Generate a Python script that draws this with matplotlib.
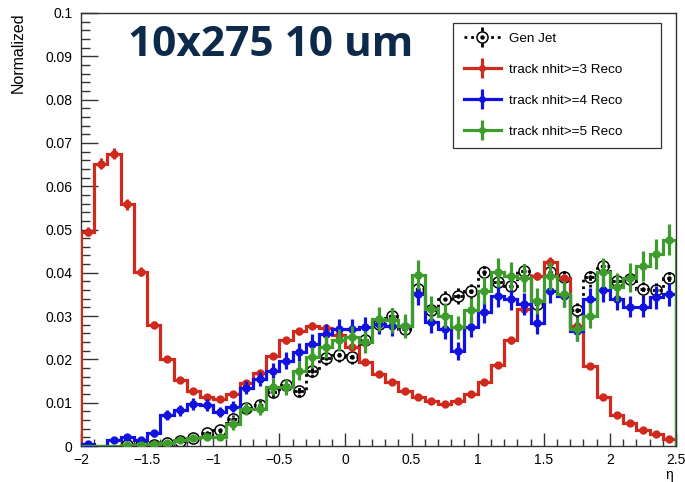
"""
Jet eta distribution, gen vs reco with different track nhit cuts
"""

import numpy as np
import matplotlib
matplotlib.use('Agg')
import matplotlib.pyplot as plt
from matplotlib.lines import Line2D
from matplotlib.path import Path
from matplotlib.ticker import MultipleLocator, FuncFormatter

plt.rcParams['font.family'] = ['Liberation Sans', 'DejaVu Sans']

# 45 bins of 0.1 in eta, from -2 to 2.5
eta_edges = np.round(np.arange(-2.0, 2.55, 0.1), 2)

gen_jet = [0, 0, 0, 0.0002, 0.0002, 0.0003, 0.0007, 0.0012, 0.0019, 0.0029,
           0.0038, 0.0063, 0.0088, 0.0095, 0.0125, 0.0140, 0.0126, 0.0174, 0.0203, 0.0211,
           0.0206, 0.0245, 0.0282, 0.0301, 0.0270, 0.0363, 0.0313, 0.0340, 0.0347, 0.0359,
           0.0401, 0.0378, 0.0370, 0.0405, 0.0328, 0.0401, 0.0390, 0.0313, 0.0390, 0.0416,
           0.0382, 0.0386, 0.0363, 0.0360, 0.0388]
gen_err = [0, 0, 0, 0.0002, 0.0002, 0.0002, 0.0003, 0.0004, 0.0005, 0.0006,
           0.0007, 0.0009, 0.0010, 0.0011, 0.0012, 0.0013, 0.0012, 0.0015, 0.0016, 0.0016,
           0.0016, 0.0017, 0.0018, 0.0019, 0.0018, 0.0021, 0.0019, 0.0020, 0.0020, 0.0021,
           0.0022, 0.0021, 0.0021, 0.0022, 0.0020, 0.0022, 0.0022, 0.0019, 0.0022, 0.0022,
           0.0021, 0.0022, 0.0021, 0.0021, 0.0022]

reco_nhit3 = [0.0495, 0.0652, 0.0675, 0.0558, 0.0403, 0.0280, 0.0200, 0.0152, 0.0127, 0.0114,
              0.0109, 0.0120, 0.0145, 0.0168, 0.0207, 0.0244, 0.0265, 0.0278, 0.0272, 0.0256,
              0.0228, 0.0194, 0.0167, 0.0148, 0.0127, 0.0113, 0.0103, 0.0098, 0.0105, 0.0119,
              0.0148, 0.0186, 0.0244, 0.0317, 0.0393, 0.0426, 0.0388, 0.0278, 0.0184, 0.0113,
              0.0071, 0.0053, 0.0038, 0.0027, 0.0017]
err_nhit3 = [0.0011, 0.0013, 0.0013, 0.0012, 0.0010, 0.0008, 0.0007, 0.0006, 0.0006, 0.0005,
             0.0005, 0.0005, 0.0006, 0.0006, 0.0007, 0.0008, 0.0008, 0.0008, 0.0008, 0.0008,
             0.0008, 0.0007, 0.0006, 0.0006, 0.0006, 0.0005, 0.0005, 0.0005, 0.0005, 0.0005,
             0.0006, 0.0007, 0.0008, 0.0009, 0.0010, 0.0010, 0.0010, 0.0008, 0.0007, 0.0005,
             0.0004, 0.0004, 0.0003, 0.0003, 0.0002]

reco_nhit4 = [0.0005, 0, 0.0013, 0.0020, 0.0013, 0.0029, 0.0071, 0.0082, 0.0098, 0.0094,
              0.0078, 0.0091, 0.0135, 0.0155, 0.0174, 0.0197, 0.0217, 0.0236, 0.0259, 0.0270,
              0.0270, 0.0274, 0.0282, 0.0278, 0.0276, 0.0351, 0.0286, 0.0270, 0.0220, 0.0274,
              0.0309, 0.0347, 0.0340, 0.0328, 0.0283, 0.0357, 0.0347, 0.0265, 0.0340, 0.0360,
              0.0340, 0.0322, 0.0322, 0.0343, 0.0350]
err_nhit4 = [0.0003, 0, 0.0005, 0.0006, 0.0005, 0.0008, 0.0012, 0.0013, 0.0014, 0.0014,
             0.0012, 0.0013, 0.0016, 0.0017, 0.0018, 0.0020, 0.0021, 0.0022, 0.0023, 0.0023,
             0.0023, 0.0023, 0.0024, 0.0023, 0.0023, 0.0026, 0.0024, 0.0023, 0.0021, 0.0023,
             0.0025, 0.0026, 0.0026, 0.0025, 0.0024, 0.0026, 0.0026, 0.0023, 0.0026, 0.0027,
             0.0026, 0.0025, 0.0025, 0.0026, 0.0026]

reco_nhit5 = [0, 0, 0, 0.0002, 0.0002, 0.0004, 0.0007, 0.0013, 0.0018, 0.0021,
              0.0021, 0.0050, 0.0086, 0.0086, 0.0137, 0.0136, 0.0174, 0.0205, 0.0228, 0.0245,
              0.0251, 0.0240, 0.0294, 0.0290, 0.0278, 0.0396, 0.0317, 0.0301, 0.0274, 0.0313,
              0.0359, 0.0401, 0.0393, 0.0388, 0.0336, 0.0393, 0.0351, 0.0270, 0.0301, 0.0401,
              0.0368, 0.0389, 0.0416, 0.0443, 0.0476]
err_nhit5 = [0, 0, 0, 0.0002, 0.0002, 0.0003, 0.0004, 0.0006, 0.0007, 0.0008,
             0.0008, 0.0012, 0.0015, 0.0015, 0.0019, 0.0019, 0.0022, 0.0024, 0.0025, 0.0026,
             0.0026, 0.0026, 0.0028, 0.0028, 0.0028, 0.0033, 0.0029, 0.0029, 0.0027, 0.0029,
             0.0031, 0.0033, 0.0033, 0.0032, 0.0030, 0.0033, 0.0031, 0.0027, 0.0029, 0.0033,
             0.0032, 0.0033, 0.0034, 0.0035, 0.0036]

reco_series = [
    ('track nhit>=3 Reco', reco_nhit3, err_nhit3, '#cf2a1d'),
    ('track nhit>=4 Reco', reco_nhit4, err_nhit4, '#1212e0'),
    ('track nhit>=5 Reco', reco_nhit5, err_nhit5, '#3d9c2c'),
]

DOT_LS = (0, (1, 1.4))

# marker made of two short vertical dashes (dotted error bar in the legend)
dot_bar = Path([(0, 0.6), (0, 1.0), (0, -0.6), (0, -1.0)],
               [Path.MOVETO, Path.LINETO, Path.MOVETO, Path.LINETO])


def fmt_tick(v, pos):
    v = round(v, 3) + 0.0
    return f'{v:g}'.replace('-', '\u2212')


def main():
    centers = 0.5 * (eta_edges[:-1] + eta_edges[1:])

    fig, ax = plt.subplots(figsize=(6.85, 4.82), dpi=100)
    fig.subplots_adjust(left=81/685, right=676/685, bottom=1-446/482, top=1-13/482)

    # Gen jet: dotted black histogram, open circles with a dot
    gen = np.array(gen_jet)
    m = gen > 0
    ax.stairs(gen, eta_edges, color='k', lw=2.0, ls=DOT_LS, zorder=2)
    eb = ax.errorbar(centers[m], gen[m], yerr=np.array(gen_err)[m], fmt='none',
                     ecolor='k', elinewidth=2.0, zorder=2)
    eb[2][0].set_linestyle(DOT_LS)
    ax.plot(centers[m], gen[m], 'o', mfc='none', mec='k', ms=8, mew=1.1, zorder=2.5)
    ax.plot(centers[m], gen[m], 'o', color='k', ms=2.2, zorder=2.5)

    handles = [(Line2D([], [], color='k', lw=2.0, ls=DOT_LS),
                Line2D([], [], ls='none', marker=dot_bar, ms=14, mew=2.0, mec='k'),
                Line2D([], [], ls='none', marker='o', mfc='white', mec='k', ms=8, mew=1.1),
                Line2D([], [], ls='none', marker='o', color='k', ms=2.2))]
    labels = ['Gen Jet']

    for i, (label, vals, errs, col) in enumerate(reco_series):
        vals = np.array(vals)
        errs = np.array(errs)
        m = vals > 0
        z = 3 + i
        ax.stairs(vals, eta_edges, color=col, lw=2.3, zorder=z)
        ax.errorbar(centers[m], vals[m], yerr=errs[m], fmt='o', ms=5, color=col,
                    elinewidth=2.3, capsize=0, zorder=z)
        handles.append((Line2D([], [], color=col, lw=2.3, marker='|', ms=14, mew=2.3),
                        Line2D([], [], ls='none', marker='o', color=col, ms=4)))
        labels.append(label)

    ax.set_xlim(-2, 2.5)
    ax.set_ylim(0, 0.1)
    ax.xaxis.set_major_locator(MultipleLocator(0.5))
    ax.xaxis.set_minor_locator(MultipleLocator(0.1))
    ax.yaxis.set_major_locator(MultipleLocator(0.01))
    ax.yaxis.set_minor_locator(MultipleLocator(0.002))
    ax.xaxis.set_major_formatter(FuncFormatter(fmt_tick))
    ax.yaxis.set_major_formatter(FuncFormatter(fmt_tick))
    ax.tick_params(which='both', direction='in', top=False, right=False,
                   labelsize=10, color='#333333', width=1.0)
    ax.tick_params(axis='x', which='major', length=9.4, pad=5)
    ax.tick_params(axis='x', which='minor', length=4.7)
    ax.tick_params(axis='y', which='major', length=12.5, pad=6)
    ax.tick_params(axis='y', which='minor', length=6.3)
    for sp in ax.spines.values():
        sp.set_color('#333333')
        sp.set_linewidth(1.0)

    leg = ax.legend(handles, labels, loc='upper left',
                    bbox_to_anchor=(0.626, 0.978, 0.349, 0), mode='expand',
                    fontsize=9.7, fancybox=False, edgecolor='#333333', framealpha=1,
                    handlelength=2.8, labelspacing=1.38, borderpad=0.75,
                    handletextpad=0.6, borderaxespad=0)
    leg.get_frame().set_linewidth(0.9)
    leg.set_zorder(10)

    fig.text(128/685, 1-46/482, '10x275 10 um', fontsize=30.5, fontweight='bold',
             color='#0d2a4a', family='Open Sans', ha='left', va='center')
    fig.text(18/685, 1-12/482, 'Normalized', rotation=90, ha='center', va='top',
             fontsize=11.5)
    fig.text(669/685, 0.001, '\u03b7', ha='center', va='bottom', fontsize=10)

    fig.savefig('out.png', dpi=100)


if __name__ == '__main__':
    main()
